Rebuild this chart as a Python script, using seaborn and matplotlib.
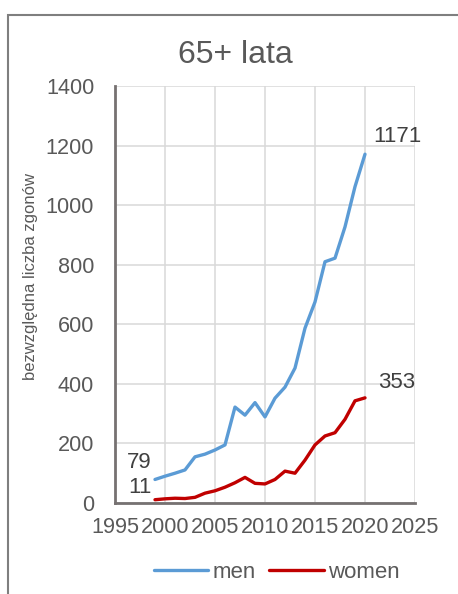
import matplotlib
matplotlib.use('Agg')
import matplotlib.pyplot as plt
from matplotlib.patches import Rectangle
import seaborn as sns
import pandas as pd

years = list(range(1999, 2021))
men = [79, 90, 100, 111, 155, 164, 178, 195, 322, 295, 337, 289, 352, 389,
       453, 587, 675, 810, 822, 927, 1062, 1171]
women = [11, 14, 16, 15, 19, 33, 41, 53, 68, 86, 66, 64, 79, 107,
         100, 144, 195, 225, 236, 281, 343, 353]
x_ticks = [1995, 2000, 2005, 2010, 2015, 2020, 2025]
y_ticks = [0, 200, 400, 600, 800, 1000, 1200, 1400]

colors = {'men': '#5b9bd5', 'women': '#c00000'}
grey_txt = '#595959'
grey_axis = '#767171'

df = pd.DataFrame({'year': years * 2,
                   'deaths': men + women,
                   'sex': ['men'] * len(years) + ['women'] * len(years)})

sns.set_style('white')
plt.rcParams['font.family'] = ['Liberation Sans', 'DejaVu Sans']

fig = plt.figure(figsize=(4.58, 5.94), dpi=100)
ax = fig.add_axes([115 / 458, 91 / 594, 300 / 458, 417 / 594])

sns.lineplot(data=df, x='year', y='deaths', hue='sex', palette=colors,
             linewidth=2.4, legend=False, ax=ax)

ax.set_xlim(1995, 2025)
ax.set_ylim(0, 1400)
ax.set_xticks(x_ticks)
ax.set_yticks(y_ticks)
ax.grid(True, color='#d9d9d9', linewidth=1.1)
ax.set_axisbelow(True)
for side in ['top', 'right']:
    ax.spines[side].set_visible(False)
for side in ['left', 'bottom']:
    ax.spines[side].set_color(grey_axis)
    ax.spines[side].set_linewidth(2)
ax.tick_params(axis='both', direction='out', length=4, width=2,
               color=grey_axis, labelcolor=grey_txt, labelsize=15.6)
ax.tick_params(axis='y', pad=11)
ax.tick_params(axis='x', pad=6)
ax.set_xlabel('')
ax.set_ylabel('bezwzględna liczba zgonów', fontsize=12, color=grey_txt)
ax.yaxis.set_label_coords(-0.257, 0.542)

# data labels at first and last points
lab = dict(fontsize=16, color='#404040', textcoords='offset pixels')
ax.annotate(str(men[-1]), (years[-1], men[-1]), xytext=(8, 18),
            ha='left', va='center', **lab)
ax.annotate(str(women[-1]), (years[-1], women[-1]), xytext=(13, 15),
            ha='left', va='center', **lab)
ax.annotate(str(men[0]), (years[0], men[0]), xytext=(-3, 17),
            ha='right', va='center', **lab)
ax.annotate(str(women[0]), (years[0], women[0]), xytext=(-3, 12),
            ha='right', va='center', **lab)

fig.text(235 / 458, 1 - 55 / 594, '65+ lata', fontsize=23, color=grey_txt,
         ha='center', va='center')

handles = [plt.Line2D([], [], color=colors[k], linewidth=2.4) for k in colors]
fig.legend(handles, list(colors), loc='center', ncol=2, frameon=False,
           bbox_to_anchor=(277 / 458, 1 - 572 / 594), fontsize=16,
           labelcolor=grey_txt, handlelength=2.45, handletextpad=0.2,
           columnspacing=0.6)

# chart area border
fig.add_artist(Rectangle((8 / 458, -0.1), 1.2, 0.1 + 1 - 15 / 594,
                         transform=fig.transFigure, fill=False,
                         edgecolor='#7f7f7f', linewidth=1.5))

fig.savefig('out.png', dpi=100)
